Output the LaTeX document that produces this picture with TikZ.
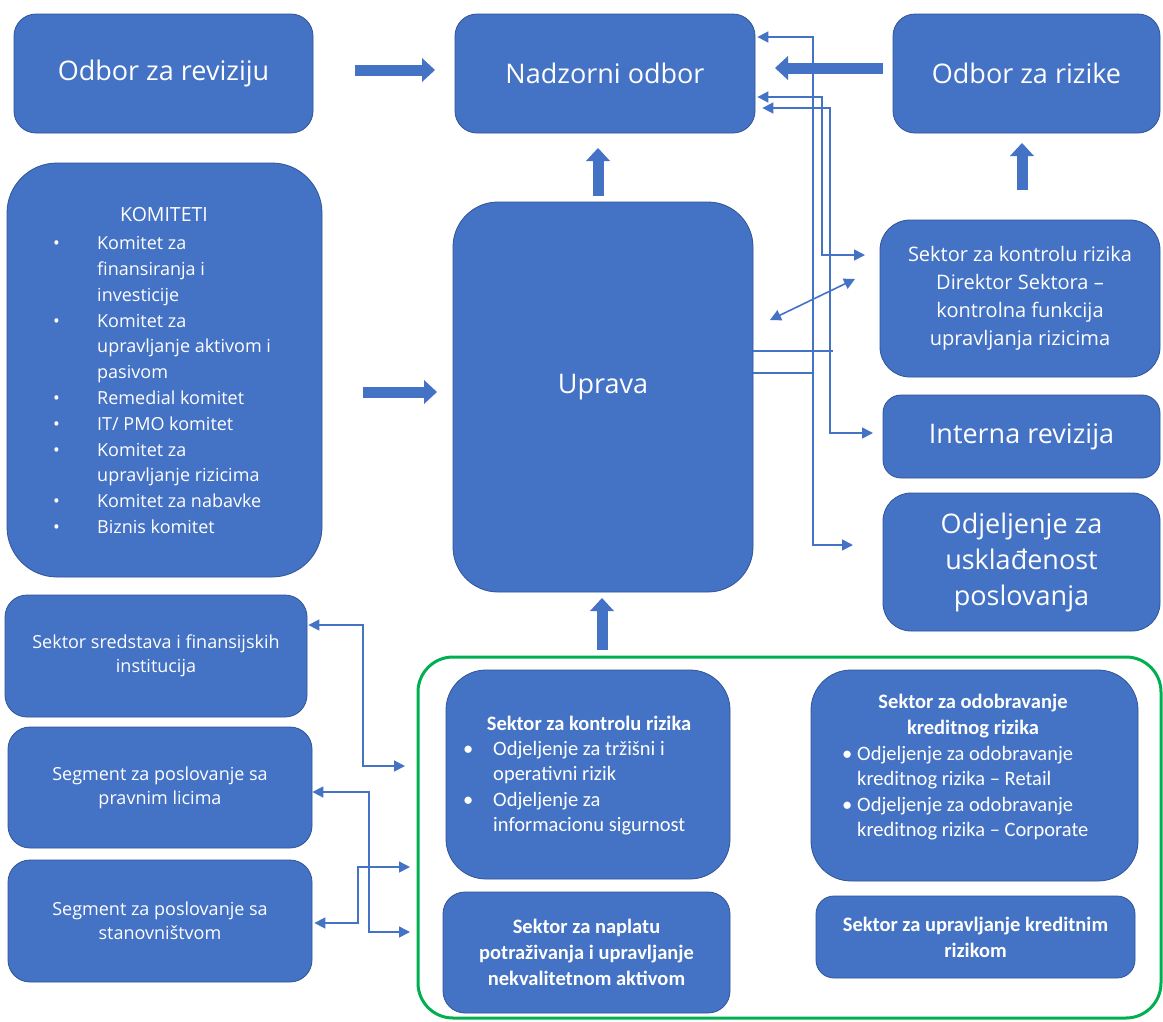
\documentclass[tikz,border=0pt]{standalone}
\usepackage{fontspec}
\setmainfont{Open Sans}
\newfontfamily\carlfont{Carlito}
\usetikzlibrary{arrows.meta}
\definecolor{boxblue}{HTML}{4472C4}
\definecolor{boxedge}{HTML}{2F5597}
\definecolor{linkblue}{HTML}{4472C4}
\definecolor{grn}{HTML}{00B050}
\newcommand\lbul[2]{\makebox[#1][l]{\textbullet}#2}
\newcommand\lcont[2]{\hspace*{#1}#2}
\begin{document}
\begin{tikzpicture}[x=1pt,y=-1pt,
  box/.style={draw=boxedge, line width=0.8pt, fill=boxblue, rounded corners=#1,
    text=white, align=center, inner sep=0pt},
  box/.default=22pt,
  txt/.style={text=white, inner sep=0pt},
  bigf/.style={font=\fontsize{27}{36}\selectfont},
  midf/.style={font=\fontsize{20}{28}\selectfont},
  smf/.style={font=\fontsize{18}{24}\selectfont},
  komf/.style={font=\fontsize{18}{25.8}\selectfont},
  inf/.style={font=\carlfont\fontsize{20.5}{25.5}\selectfont},
  infb/.style={font=\carlfont\bfseries\fontsize{20.5}{26}\selectfont},
  conn/.style={draw=linkblue, line width=1.6pt},
  >={Triangle[length=11pt,width=11pt]},
  blk/.style={draw=boxblue, line width=11pt,
    -{Triangle[length=13pt,width=24pt,line width=0pt]}}]
\path[use as bounding box, fill=white] (0,0) rectangle (1163,1021);

% green group frame
\node[draw=grn, line width=3pt, rounded corners=35pt, minimum width=743pt,
  minimum height=361pt, inner sep=0pt] (grp) at (789.5,837.5) {};

% top row
\node[box, bigf, minimum width=299pt, minimum height=119pt] (rev) at (163.5,73.5) {Odbor za reviziju};
\node[box, bigf, minimum width=300pt, minimum height=119pt] (nad) at (605,73.5) {Nadzorni odbor};
\node[box, bigf, minimum width=267pt, minimum height=119pt] (riz) at (1026.5,73.5) {Odbor za rizike};

% middle
\node[box=50pt, minimum width=315pt, minimum height=414pt] (kom) at (164.5,370) {};
\node[txt, font=\fontsize{19.5}{24}\selectfont] (komt) at (164,215) {KOMITETI};
\node[txt, komf, align=left, anchor=west] (koml) at (53,385) {%
\lbul{44pt}{Komitet za}\\
\lcont{44pt}{finansiranja i}\\
\lcont{44pt}{investicije}\\
\lbul{44pt}{Komitet za}\\
\lcont{44pt}{upravljanje aktivom i}\\
\lcont{44pt}{pasivom}\\
\lbul{44pt}{Remedial komitet}\\
\lbul{44pt}{IT/ PMO komitet}\\
\lbul{44pt}{Komitet za}\\
\lcont{44pt}{upravljanje rizicima}\\
\lbul{44pt}{Komitet za nabavke}\\
\lbul{44pt}{Biznis komitet}};

\node[box=45pt, minimum width=300pt, minimum height=390pt, text depth=0pt] (upr) at (603,397) {};
\node[txt, bigf] (uprt) at (603,387) {Uprava};

\node[box=30pt, midf, minimum width=280pt, minimum height=157pt] (skr) at (1020,298.5)
  {Sektor za kontrolu rizika\\Direktor Sektora –\\kontrolna funkcija\\upravljanja rizicima};
\node[box=18pt, bigf, minimum width=277pt, minimum height=83pt] (irv) at (1021.5,436.5) {Interna revizija};
\node[box=28pt, bigf, minimum width=277pt, minimum height=138pt] (ousk) at (1021.5,562)
  {Odjeljenje za\\usklađenost\\poslovanja};

% left column
\node[box, smf, minimum width=302pt, minimum height=122pt] (ss) at (156,656)
  {Sektor sredstava i finansijskih\\institucija};
\node[box, smf, minimum width=304pt, minimum height=121pt] (spl) at (160,787.5)
  {Segment za poslovanje sa\\pravnim licima};
\node[box, smf, minimum width=304pt, minimum height=122pt] (sst) at (160,921)
  {Segment za poslovanje sa\\stanovništvom};

% inner group boxes
\node[box=40pt, minimum width=284pt, minimum height=209pt] (b1) at (588,774.5) {};
\node[txt, infb] (b1t) at (589,723) {Sektor za kontrolu rizika};
\node[txt, inf, align=left, anchor=west] (b1l) at (463,788) {%
\lbul{30pt}{Odjeljenje za tržišni i}\\
\lcont{30pt}{operativni rizik}\\
\lbul{30pt}{Odjeljenje za}\\
\lcont{30pt}{informacionu sigurnost}};

\node[box=40pt, minimum width=327pt, minimum height=211pt] (b2) at (974.5,775.5) {};
\node[txt, infb, align=center] (b2t) at (973,716) {Sektor za odobravanje\\kreditnog rizika};
\node[txt, inf, align=left, anchor=west] (b2l) at (842,793) {%
\lbul{15pt}{Odjeljenje za odobravanje}\\
\lcont{15pt}{kreditnog rizika – Retail}\\
\lbul{15pt}{Odjeljenje za odobravanje}\\
\lcont{15pt}{kreditnog rizika – Corporate}};

\node[box, infb, minimum width=287pt, minimum height=121pt] (b3) at (586.5,952.5)
  {Sektor za naplatu\\potraživanja i upravljanje\\nekvalitetnom aktivom};
\node[box=18pt, infb, minimum width=319pt, minimum height=82pt] (b4) at (975.5,937)
  {Sektor za upravljanje kreditnim\\rizikom};

% block arrows
\coordinate (a1s) at (355,70);   \coordinate (a1e) at (435,70);
\coordinate (a2s) at (883,68);   \coordinate (a2e) at (775,68);
\coordinate (a3s) at (598,196);  \coordinate (a3e) at (598,148);
\coordinate (a4s) at (363,392);  \coordinate (a4e) at (437,392);
\coordinate (a5s) at (1022,190); \coordinate (a5e) at (1022,143);
\coordinate (a6s) at (602,650);  \coordinate (a6e) at (602,598);
\draw[blk] (a1s) -- (a1e);
\draw[blk] (a2s) -- (a2e);
\draw[blk] (a3s) -- (a3e);
\draw[blk] (a4s) -- (a4e);
\draw[blk] (a5s) -- (a5e);
\draw[blk] (a6s) -- (a6e);

% right-side thin connectors
\coordinate (r1a) at (813,37);  \coordinate (r1b) at (813,545); \coordinate (r1e) at (853,545);
\coordinate (r1s) at (813,373);
\coordinate (r2a) at (822,97);  \coordinate (r2b) at (822,255); \coordinate (r2e) at (865,255);
\coordinate (r3a) at (830,108); \coordinate (r3b) at (830,433); \coordinate (r3e) at (873,433);
\coordinate (r3s) at (833,351);
\coordinate (d1) at (770,320);  \coordinate (d2) at (855,279);
\draw[conn,<->] ([xshift=2pt]nad.east |- r1a) -- (r1a) -- (r1b) -- (r1e);
\draw[conn,<->] ([xshift=2pt]nad.east |- r2a) -- (r2a) -- (r2b) -- (r2e);
\draw[conn,<->] ([xshift=7pt]nad.east |- r3a) -- (r3a) -- (r3b) -- (r3e);
\draw[conn] (upr.east |- r1s) -- (r1s);
\draw[conn] (upr.east |- r3s) -- (r3s);
\draw[conn,<->] (d1) -- (d2);

% left-side thin connectors
\coordinate (l1a) at (363,625); \coordinate (l1b) at (363,766); \coordinate (l1e) at (405,766);
\coordinate (l2a) at (369,792); \coordinate (l2b) at (369,932); \coordinate (l2e) at (410,932);
\coordinate (l3a) at (358,923); \coordinate (l3b) at (358,867); \coordinate (l3e) at (410,867);
\draw[conn,<->] ([xshift=1pt]ss.east |- l1a) -- (l1a) -- (l1b) -- (l1e);
\draw[conn,<->] (spl.east |- l2a) -- (l2a) -- (l2b) -- (l2e);
\draw[conn,<->] ([xshift=2pt]sst.east |- l3a) -- (l3a) -- (l3b) -- (l3e);
\end{tikzpicture}
\end{document}
